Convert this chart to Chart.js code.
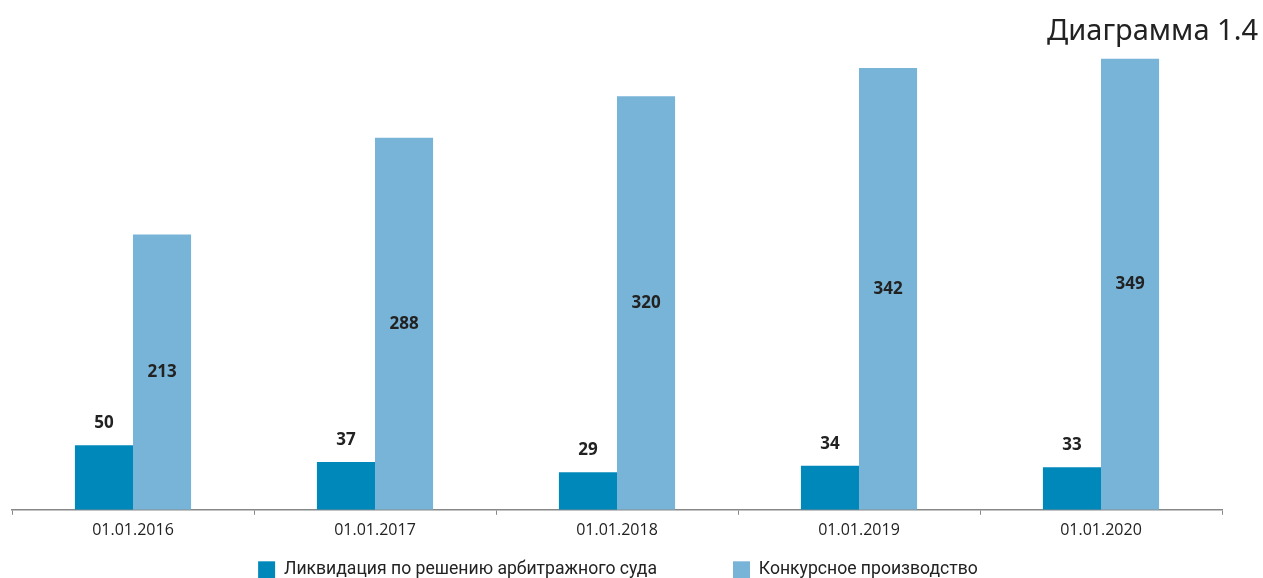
<!DOCTYPE html>
<html>
<head>
  <title>Диаграмма 1.4</title>
  <style>
    body {
      margin: 0;
      padding: 0;
      background-color: #ffffff;
    }

    .chart-box {
      width: 1263px;
      height: 578px;
    }
  </style>
  <script src="https://cdn.jsdelivr.net/npm/chart.js"></script>
</head>
<body>
<div class="chart-box">
  <canvas id="liquidationChart"></canvas>
</div>

<script>
  // Chart data
  const dates = ['01.01.2016', '01.01.2017', '01.01.2018', '01.01.2019', '01.01.2020'];
  const courtLiquidation = [50, 37, 29, 34, 33];
  const bankruptcy = [213, 288, 320, 342, 349];

  // Draw value labels: above the dark bars, in the middle of the light ones
  const valueLabels = {
    id: 'valueLabels',
    afterDatasetsDraw(chart) {
      const ctx = chart.ctx;
      ctx.save();
      ctx.font = 'bold 17px "Open Sans", sans-serif';
      ctx.fillStyle = '#222222';
      ctx.textAlign = 'center';
      ctx.textBaseline = 'middle';
      chart.data.datasets.forEach((ds, i) => {
        const meta = chart.getDatasetMeta(i);
        meta.data.forEach((bar, j) => {
          const y = i === 0 ? bar.y - 22 : (bar.y + bar.base) / 2;
          ctx.fillText(ds.data[j], bar.x, y);
        });
      });
      ctx.restore();
    }
  };

  // The legend padding is also used vertically, so stretch the legend box
  // upwards after layout (it is clipped to its box) to keep the wide gap
  // between items without pushing the axis up. Also undo the trailing
  // padding that pushes the centred items to the right.
  const legendShift = {
    id: 'legendShift',
    afterLayout(chart) {
      chart.legend.top -= 61;
      chart.legend.left -= 17;
      chart.legend.right -= 17;
    }
  };

  const ctx = document.getElementById('liquidationChart').getContext('2d');

  new Chart(ctx, {
    type: 'bar',
    data: {
      labels: dates,
      datasets: [
        {
          label: 'Ликвидация по решению арбитражного суда',
          data: courtLiquidation,
          backgroundColor: '#0088bb',
          barPercentage: 1,
          categoryPercentage: 0.48
        },
        {
          label: 'Конкурсное производство',
          data: bankruptcy,
          backgroundColor: '#77b4d7',
          barPercentage: 1,
          categoryPercentage: 0.48
        }
      ]
    },
    options: {
      responsive: true,
      maintainAspectRatio: false,
      animation: false,
      layout: {
        padding: { left: 12, right: 5, top: 0, bottom: 0 }
      },
      scales: {
        x: {
          grid: {
            drawOnChartArea: false,
            drawTicks: true,
            tickLength: 5,
            color: '#888888'
          },
          border: { color: '#888888', width: 1.5 },
          ticks: {
            color: '#222222',
            font: { family: '"Open Sans", sans-serif', size: 16 },
            padding: 6
          }
        },
        y: {
          display: false,
          min: 0,
          max: 356
        },
        // empty right axis, only to keep the plot clear of the right edge
        yRight: {
          position: 'right',
          display: true,
          grid: { display: false },
          border: { display: false },
          ticks: { display: false },
          afterFit(axis) {
            axis.width = 36;
          }
        }
      },
      plugins: {
        title: {
          display: true,
          text: 'Диаграмма 1.4',
          align: 'end',
          color: '#222222',
          font: { family: '"Noto Sans", sans-serif', size: 29, weight: 'normal' },
          padding: { top: 14, bottom: 1 }
        },
        legend: {
          position: 'bottom',
          maxHeight: 32,
          labels: {
            color: '#222222',
            boxWidth: 17,
            boxHeight: 17,
            padding: 76,
            font: { family: '"Roboto", sans-serif', size: 17.6 }
          }
        },
        tooltip: { enabled: false }
      }
    },
    plugins: [valueLabels, legendShift]
  });
</script>
</body>
</html>
